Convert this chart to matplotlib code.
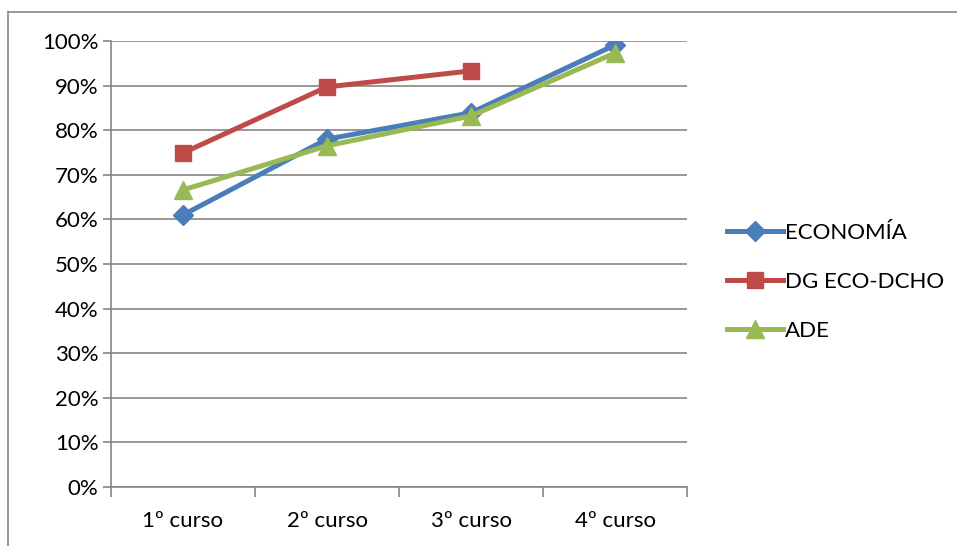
import matplotlib.pyplot as plt
from matplotlib.lines import Line2D
from matplotlib.ticker import FuncFormatter

plt.rcParams['font.family'] = ['Lato', 'DejaVu Sans']

cursos = ["1º curso", "2º curso", "3º curso", "4º curso"]
economia = [61.0, 78.0, 83.9, 99.1]
dg_eco_dcho = [74.9, 89.7, 93.3]
ade = [66.6, 76.5, 83.2, 97.3]

azul = '#4A7EBB'
rojo = '#BE4B48'
verde = '#98B954'
gris = '#868686'

fig = plt.figure(figsize=(9.57, 5.46), dpi=100)
ax = fig.add_axes([111 / 957, 1 - 487 / 546, 576 / 957, 446 / 546])

# outer chart border (only top and left visible in the crop)
fig.add_artist(Line2D([8 / 957, 8 / 957], [0, 1 - 12 / 546], transform=fig.transFigure,
                      color=gris, lw=1.2))
fig.add_artist(Line2D([8 / 957, 1], [1 - 12 / 546, 1 - 12 / 546], transform=fig.transFigure,
                      color=gris, lw=1.2))

x = [i + 0.5 for i in range(len(cursos))]
ax.plot(x, economia, color=azul, lw=3.6, marker='D', ms=10, label='ECONOMÍA', zorder=3)
ax.plot(x[:len(dg_eco_dcho)], dg_eco_dcho, color=rojo, lw=3.6, marker='s', ms=12,
        label='DG ECO-DCHO', zorder=3)
ax.plot(x, ade, color=verde, lw=3.6, marker='^', ms=13, label='ADE', zorder=4)

ax.set_xlim(0, 4)
ax.set_ylim(0, 100)
ax.set_yticks(range(0, 101, 10))
ax.yaxis.set_major_formatter(FuncFormatter(lambda v, p: f"{v:.0f}%"))
ax.grid(axis='y', color=gris, lw=1.2)
ax.set_axisbelow(True)

ax.set_xticks(x)
ax.set_xticklabels(cursos)
ax.set_xticks(range(0, 5), minor=True)
ax.tick_params(axis='x', which='major', length=0, pad=17, labelsize=16)
ax.tick_params(axis='x', which='minor', length=7, color=gris, width=1.2)
ax.tick_params(axis='y', length=6, color=gris, width=1.2, labelsize=16, pad=3)

for s in ['top', 'right']:
    ax.spines[s].set_visible(False)
for s in ['left', 'bottom']:
    ax.spines[s].set_color(gris)
    ax.spines[s].set_linewidth(1.2)

fig.legend(loc='center left', bbox_to_anchor=(707 / 957, 1 - 282 / 546), frameon=False,
           fontsize=16, handlelength=2.5, handletextpad=0.12, labelspacing=1.3)

fig.savefig('out.png', dpi=100)
